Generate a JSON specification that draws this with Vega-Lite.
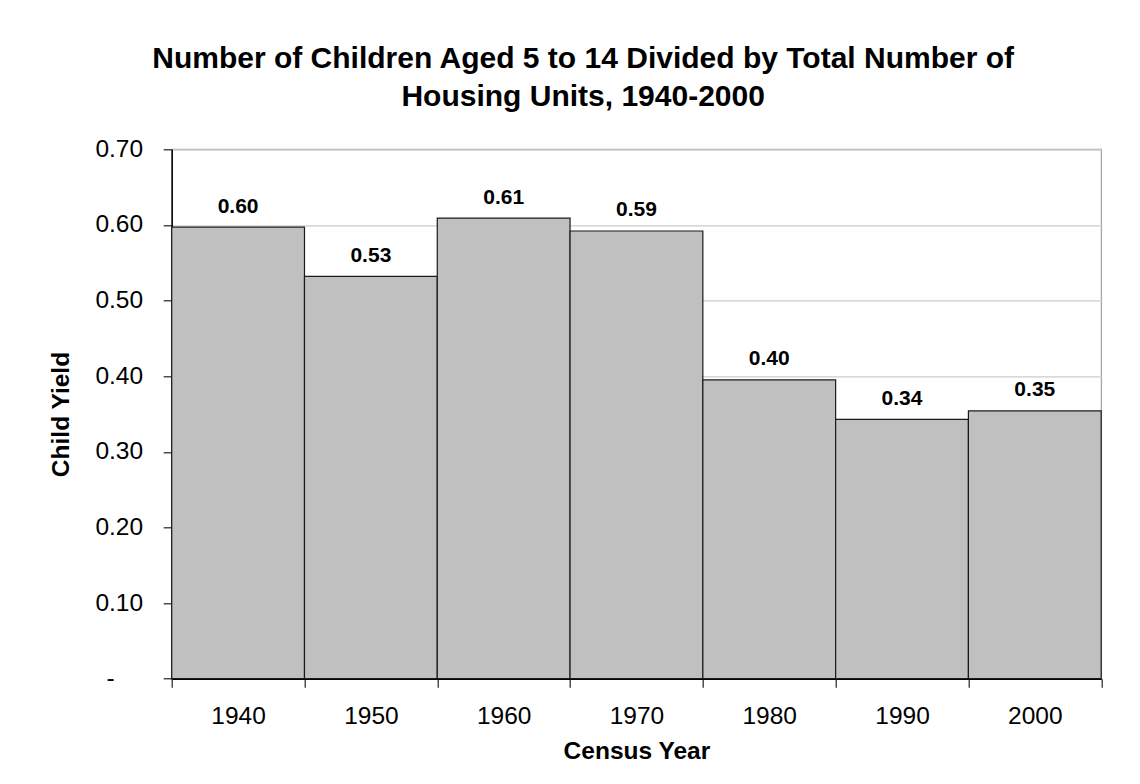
{
  "$schema": "https://vega.github.io/schema/vega-lite/v6.json",
  "autosize": "none",
  "width": 929.5,
  "height": 529.4,
  "padding": {"left": 171.7, "top": 149.3, "right": 38.8, "bottom": 105.3},
  "background": "white",
  "title": {
    "text": ["Number of Children Aged 5 to 14 Divided by Total Number of", "Housing Units, 1940-2000"],
    "font": "Liberation Sans",
    "fontSize": 30,
    "fontWeight": "bold",
    "color": "black",
    "anchor": "middle",
    "frame": "group",
    "baseline": "alphabetic",
    "lineHeight": 38.3,
    "offset": 0,
    "dx": -53.3
  },
  "data": {
    "values": [
      {"year": "1940", "yield": 0.597},
      {"year": "1950", "yield": 0.532},
      {"year": "1960", "yield": 0.609},
      {"year": "1970", "yield": 0.592},
      {"year": "1980", "yield": 0.395},
      {"year": "1990", "yield": 0.343},
      {"year": "2000", "yield": 0.354}
    ]
  },
  "encoding": {
    "x": {
      "field": "year",
      "type": "ordinal",
      "scale": {"paddingInner": 0, "paddingOuter": 0},
      "axis": {
        "title": "Census Year",
        "labelAngle": 0,
        "tickBand": "extent",
        "labelBaseline": "alphabetic",
        "labelPadding": 36.6,
        "titleY": 79.6,
        "titleBaseline": "alphabetic"
      }
    },
    "y": {
      "field": "yield",
      "type": "quantitative",
      "scale": {"domain": [0, 0.7], "nice": false},
      "axis": {
        "title": "Child Yield",
        "values": [0, 0.1, 0.2, 0.3, 0.4, 0.5, 0.6, 0.7],
        "labelExpr": "datum.value == 0 ? '-' : format(datum.value, '.2f')",
        "labelPadding": {"condition": {"test": "datum.value == 0", "value": 49}, "value": 20.6},
        "labelBaseline": "middle",
        "titleX": -103,
        "titleY": 264.7,
        "titleBaseline": "alphabetic",
        "titleAngle": 270,
        "titleAlign": "center"
      }
    }
  },
  "layer": [
    {
      "mark": {"type": "bar", "fill": "#c0c0c0", "stroke": "#1a1a1a", "strokeWidth": 1.2}
    },
    {
      "mark": {
        "type": "text",
        "baseline": "alphabetic",
        "align": "center",
        "dy": -14.6,
        "font": "Liberation Sans",
        "fontSize": 21,
        "fontWeight": "bold",
        "color": "black"
      },
      "encoding": {
        "text": {"field": "yield", "type": "quantitative", "format": ".2f"}
      }
    }
  ],
  "config": {
    "view": {"stroke": "#a8a8a8", "strokeWidth": 1.3},
    "axis": {
      "labelFont": "Liberation Sans",
      "labelFontSize": 24.5,
      "labelColor": "black",
      "titleFont": "Liberation Sans",
      "titleFontSize": 24.5,
      "titleFontWeight": "bold",
      "titleColor": "black",
      "domainColor": "black",
      "domainWidth": 1.5,
      "tickColor": "#222222",
      "tickSize": 8.5,
      "tickWidth": 1.2,
      "gridColor": "#cccccc",
      "gridWidth": 1.2
    }
  }
}
